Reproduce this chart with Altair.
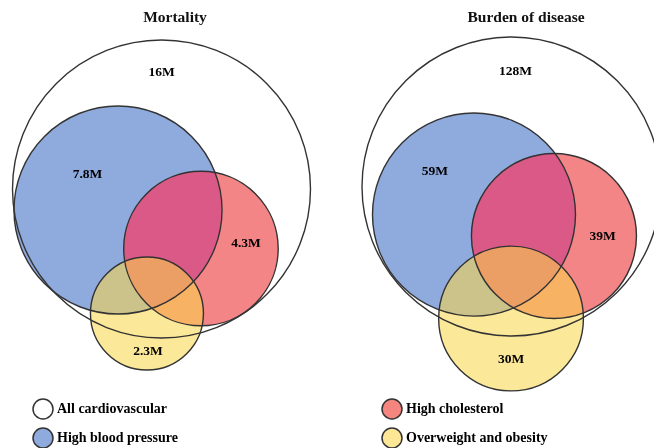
import altair as alt
import pandas as pd

# ---------------- data ----------------
sets = ["All cardiovascular", "High blood pressure", "High cholesterol", "Overweight and obesity"]
mortality = [16, 7.8, 4.3, 2.3]
burden = [128, 59, 39, 30]
mortality_labels = ["16M", "7.8M", "4.3M", "2.3M"]
burden_labels = ["128M", "59M", "39M", "30M"]
panel_titles = ["Mortality", "Burden of disease"]

# legend entries fill column by column: (All, High blood pressure) | (High cholesterol, Overweight)
legend_order = ["All cardiovascular", "High blood pressure", "High cholesterol", "Overweight and obesity"]
legend_colors = ["#ffffff", "#8FAADC", "#F4857F", "#FDE796"]

# ---------------- layout (circle centres, label anchors; units = 150 px, relative to outer circle) ----------------
mort_cx = [0.0, -0.290, 0.263, -0.097]
mort_cy = [0.0, -0.140, -0.397, -0.830]
mort_lx = [0.000, -0.493, 0.563, -0.090]
mort_ly = [0.777, 0.100, -0.360, -1.080]
burd_cx = [0.0, -0.250, 0.283, -0.003]
burd_cy = [0.0, -0.187, -0.330, -0.880]
burd_lx = [0.027, -0.510, 0.607, -0.003]
burd_ly = [0.770, 0.103, -0.327, -1.147]
panel_offset = [(0.0, 0.0), (2.3333, 0.0167)]
title_pos = [(0.09, 1.15), (0.097, 1.133)]

W, H = 646, 440
UNIT = 150
ORIGIN = (153.5, 181)  # chart pixel of the left outer circle centre
FONT = "Liberation Serif"

xs = alt.Scale(domain=[-ORIGIN[0] / UNIT, (W - ORIGIN[0]) / UNIT], nice=False, zero=False)
ys = alt.Scale(domain=[-(H - ORIGIN[1]) / UNIT, ORIGIN[1] / UNIT], nice=False, zero=False)


def panel(i, values, labels, cx, cy, lx, ly, r_px, with_legend):
    dx, dy = panel_offset[i]
    df = pd.DataFrame({"set": sets, "value": values,
                       "x": [dx + v for v in cx], "y": [dy + v for v in cy],
                       "lx": [dx + v for v in lx], "ly": [dy + v for v in ly],
                       "label": labels})
    X = alt.X("x:Q", scale=xs, axis=None)
    Y = alt.Y("y:Q", scale=ys, axis=None)
    S = alt.Size("value:Q", scale=alt.Scale(domain=[0, values[0]], range=[0, 4 * r_px * r_px]),
                 legend=None)
    base = alt.Chart(df).encode(x=X, y=Y, size=S)

    layers = []
    if with_legend:
        layers.append(base.mark_point(filled=True, shape="circle", opacity=0).encode(
            color=alt.Color("set:N", sort=legend_order,
                            scale=alt.Scale(domain=legend_order, range=legend_colors),
                            legend=alt.Legend(orient="none", legendX=24, legendY=390, columns=2,
                                              title=None, symbolType="circle", symbolSize=400,
                                              symbolStrokeWidth=1.5, symbolOpacity=1,
                                              labelFont=FONT, labelFontSize=14,
                                              labelFontWeight="bold", labelColor="black",
                                              labelOffset=3, rowPadding=3, columnPadding=201,
                                              padding=0, labelLimit=300)),
            stroke=alt.value("#333333"), strokeWidth=alt.value(1.5)))

    layers += [
        base.transform_filter(alt.datum.set == "High blood pressure").mark_point(
            filled=True, shape="circle", color="#8FAADC", opacity=1),
        base.transform_filter(alt.datum.set == "High cholesterol").mark_point(
            filled=True, shape="circle", color="#F48580", opacity=1, blend="multiply"),
        base.transform_filter(alt.datum.set == "High cholesterol").mark_point(
            filled=True, shape="circle", color="#DA0087", opacity=1, blend="lighten"),
        base.transform_filter(alt.datum.set == "Overweight and obesity").mark_point(
            filled=True, shape="circle", color="#FAD649", opacity=0.56),
        base.mark_point(filled=False, shape="circle", color="#333333",
                        strokeWidth=1.4, opacity=1),
        alt.Chart(df).mark_text(font=FONT, fontWeight="bold", fontSize=13.5,
                                color="black").encode(
            x=alt.X("lx:Q", scale=xs, axis=None), y=alt.Y("ly:Q", scale=ys, axis=None),
            text="label:N"),
    ]
    tdf = pd.DataFrame({"t": [panel_titles[i]],
                        "tx": [dx + title_pos[i][0]], "ty": [dy + title_pos[i][1]]})
    layers.append(alt.Chart(tdf).mark_text(font=FONT, fontWeight="bold", fontSize=15.5,
                                           color="#111111").encode(
        x=alt.X("tx:Q", scale=xs, axis=None), y=alt.Y("ty:Q", scale=ys, axis=None),
        text="t:N"))
    return alt.layer(*layers)


left = panel(0, mortality, mortality_labels, mort_cx, mort_cy, mort_lx, mort_ly, 149, True)
right = panel(1, burden, burden_labels, burd_cx, burd_cy, burd_lx, burd_ly, 149.5, False)

chart = alt.layer(left, right).resolve_scale(size="independent").properties(
    width=W, height=H, padding=0, autosize=alt.AutoSizeParams(type="none")
).configure_view(stroke=None)

chart.save("out.html", embed_options={"renderer": "svg", "actions": False})
